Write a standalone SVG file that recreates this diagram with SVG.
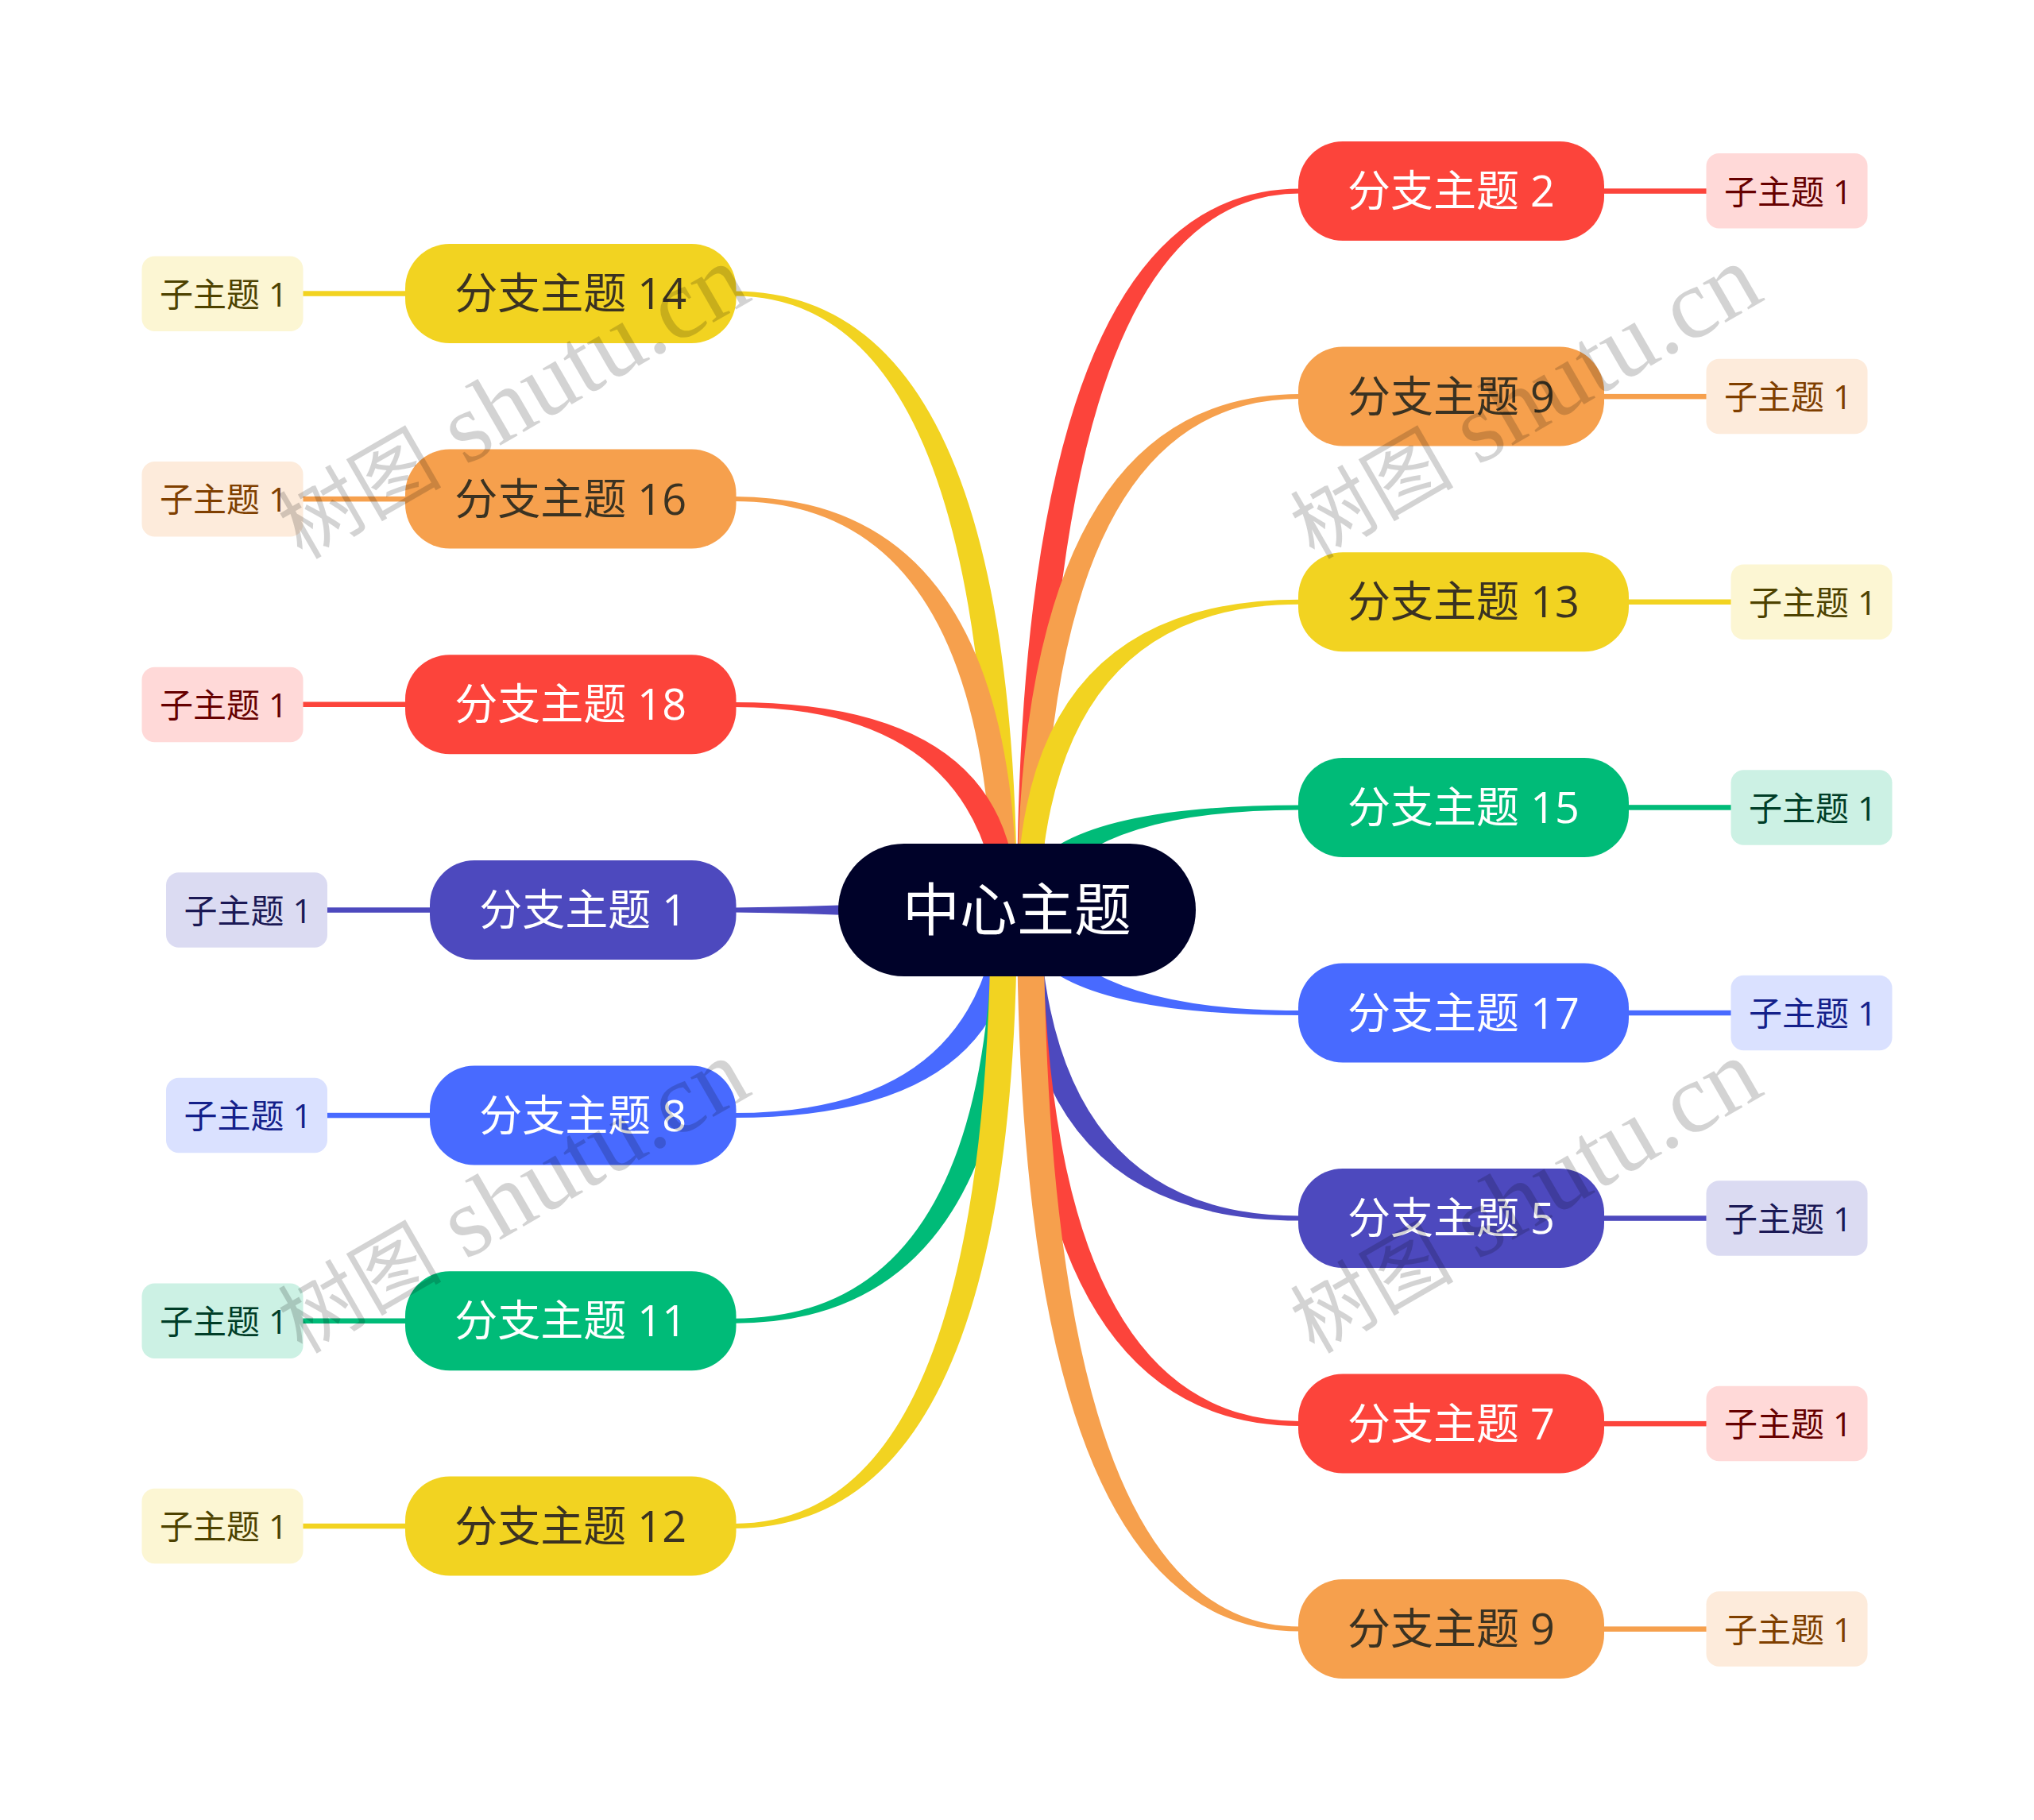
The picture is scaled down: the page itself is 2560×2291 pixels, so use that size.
<svg xmlns="http://www.w3.org/2000/svg" width="2560" height="2291" viewBox="0 0 2560 2291">
<style>
text{font-family:"Open Sans","Noto Sans CJK SC",sans-serif;text-anchor:middle}
.b text{font-size:54px;transform:translateY(-1px)}
.c text{font-size:42px;transform:translateX(1.5px)}
.red{fill:#FC443B}.ora{fill:#F6A04D}.yel{fill:#F2D321}.gre{fill:#00BB78}.blu{fill:#486AFF}.ind{fill:#4D49BE}
.sred{fill:#FFD9D8}.sora{fill:#FDEBDB}.syel{fill:#FCF6D3}.sgre{fill:#CCF1E4}.sblu{fill:#DAE1FF}.sind{fill:#DBDBF2}
.tw{fill:#FFFFFF}.td{fill:#3A3222}
.tred{fill:#660000}.tora{fill:#7F3F00}.tyel{fill:#4D4200}.tgre{fill:#003D27}.tblu{fill:#14208A}.tind{fill:#1B1955}
.wm{font-family:"Liberation Serif","Noto Sans CJK SC",serif;font-size:125px;fill:#000;opacity:.17;text-anchor:start}
.wm tspan{font-size:103px}
</style>
<g id="connectors">
<path class="ind" d="M1280,1126 Q1100,1141 924,1142.5 L924,1148.5 Q1100,1150 1280,1165Z"/>
<path class="red" d="M1280,1145.5 Q1280,237.5 1636,237.5 L1636,243.5 Q1313.5,243.5 1313.5,1158.6Z"/>
<path class="ind" d="M1280,1145.5 Q1280,1536.5 1636,1536.5 L1636,1530.5 Q1311,1530.5 1307,1121Z"/>
<path class="red" d="M1280,1145.5 Q1280,1795 1636,1795 L1636,1789 Q1311.6,1789 1311.6,1128Z"/>
<path class="blu" d="M1280,1145.5 Q1280,1407 924,1407 L924,1401 Q1246,1401 1259,1116Z"/>
<path class="ora" d="M1280,1145.5 Q1280,496 1636,496 L1636,502 Q1311.6,502 1311.6,1162.8Z"/>
<path class="ora" d="M1280,1145.5 Q1280,2053.6 1636,2053.6 L1636,2047.6 Q1313.5,2047.6 1313.5,1132.4Z"/>
<path class="gre" d="M1280,1145.5 Q1280,1665.7 924,1665.7 L924,1659.7 Q1250,1659.7 1250,1125Z"/>
<path class="yel" d="M1280,1145.5 Q1280,1924 924,1924 L924,1918 Q1247,1918 1247,1130.6Z"/>
<path class="yel" d="M1280,1145.5 Q1280,754.7 1636,754.7 L1636,760.7 Q1311,760.7 1307,1170Z"/>
<path class="yel" d="M1280,1145.5 Q1280,366.5 924,366.5 L924,372.5 Q1247,372.5 1247,1160.4Z"/>
<path class="gre" d="M1280,1145.5 Q1280,1013.5 1636,1013.5 L1636,1019.5 Q1320,1019.5 1292,1179Z"/>
<path class="ora" d="M1280,1145.5 Q1280,625 924,625 L924,631 Q1250,631 1250,1165.8Z"/>
<path class="blu" d="M1280,1145.5 Q1280,1278 1636,1278 L1636,1272 Q1320,1272 1292,1112Z"/>
<path class="red" d="M1280,1145.5 Q1280,884 924,884 L924,890 Q1246,890 1259,1175Z"/>
<rect class="red" x="2017" y="237.3" width="132" height="6.5"/>
<rect class="ora" x="2017" y="495.9" width="132" height="6.5"/>
<rect class="yel" x="2048" y="754.5" width="132" height="6.5"/>
<rect class="gre" x="2048" y="1013.2" width="132" height="6.5"/>
<rect class="blu" x="2048" y="1271.8" width="132" height="6.5"/>
<rect class="ind" x="2017" y="1530.3" width="132" height="6.5"/>
<rect class="red" x="2017" y="1788.9" width="132" height="6.5"/>
<rect class="ora" x="2017" y="2047.4" width="132" height="6.5"/>
<rect class="yel" x="380" y="366.3" width="132" height="6.5"/>
<rect class="ora" x="380" y="624.9" width="132" height="6.5"/>
<rect class="red" x="380" y="883.5" width="132" height="6.5"/>
<rect class="ind" x="411" y="1142.3" width="132" height="6.5"/>
<rect class="blu" x="411" y="1400.8" width="132" height="6.5"/>
<rect class="gre" x="380" y="1659.5" width="132" height="6.5"/>
<rect class="yel" x="380" y="1917.8" width="132" height="6.5"/>
</g>
<g id="center"><rect x="1055" y="1062" width="450" height="167" rx="83" fill="#000229"/><text x="1280" y="1171" font-size="72" fill="#fff">中心主题</text></g>
<g id="n2" class="b"><rect class="red" x="1634" y="178" width="385" height="125" rx="56"/><text class="tw" x="1826.5" y="261">分支主题 2</text></g>
<g id="n9" class="b"><rect class="ora" x="1634" y="436.5" width="385" height="125" rx="56"/><text class="td" x="1826.5" y="519.5">分支主题 9</text></g>
<g id="n13" class="b"><rect class="yel" x="1634" y="695.2" width="416" height="125" rx="56"/><text class="td" x="1842" y="778">分支主题 13</text></g>
<g id="n15" class="b"><rect class="gre" x="1634" y="954" width="416" height="125" rx="56"/><text class="tw" x="1842" y="1037">分支主题 15</text></g>
<g id="n17" class="b"><rect class="blu" x="1634" y="1212.5" width="416" height="125" rx="56"/><text class="tw" x="1842" y="1295.5">分支主题 17</text></g>
<g id="n5" class="b"><rect class="ind" x="1634" y="1471" width="385" height="125" rx="56"/><text class="tw" x="1826.5" y="1554">分支主题 5</text></g>
<g id="n7" class="b"><rect class="red" x="1634" y="1729.5" width="385" height="125" rx="56"/><text class="tw" x="1826.5" y="1812.5">分支主题 7</text></g>
<g id="n9b" class="b"><rect class="ora" x="1634" y="1988" width="385" height="125" rx="56"/><text class="td" x="1826.5" y="2071">分支主题 9</text></g>
<g id="n14" class="b"><rect class="yel" x="510" y="307" width="416.5" height="125" rx="56"/><text class="td" x="718.2" y="390">分支主题 14</text></g>
<g id="n16" class="b"><rect class="ora" x="510" y="565.5" width="416.5" height="125" rx="56"/><text class="td" x="718.2" y="648.5">分支主题 16</text></g>
<g id="n18" class="b"><rect class="red" x="510" y="824.2" width="416.5" height="125" rx="56"/><text class="tw" x="718.2" y="907.2">分支主题 18</text></g>
<g id="n1" class="b"><rect class="ind" x="541" y="1083" width="385.5" height="125" rx="56"/><text class="tw" x="733.7" y="1166">分支主题 1</text></g>
<g id="n8" class="b"><rect class="blu" x="541" y="1341.5" width="385.5" height="125" rx="56"/><text class="tw" x="733.7" y="1424.5">分支主题 8</text></g>
<g id="n11" class="b"><rect class="gre" x="510" y="1600.2" width="416.5" height="125" rx="56"/><text class="tw" x="718.2" y="1683.2">分支主题 11</text></g>
<g id="n12" class="b"><rect class="yel" x="510" y="1858.5" width="416.5" height="125" rx="56"/><text class="td" x="718.2" y="1941.5">分支主题 12</text></g>
<g id="c2" class="c"><rect class="sred" x="2147.5" y="193" width="203" height="94.5" rx="16"/><text class="tred" x="2249" y="256.5">子主题 1</text></g>
<g id="c9" class="c"><rect class="sora" x="2147.5" y="451.7" width="203" height="94.5" rx="16"/><text class="tora" x="2249" y="515">子主题 1</text></g>
<g id="c13" class="c"><rect class="syel" x="2178.5" y="710.5" width="203" height="94.5" rx="16"/><text class="tyel" x="2280" y="773.7">子主题 1</text></g>
<g id="c15" class="c"><rect class="sgre" x="2178.5" y="969.2" width="203" height="94.5" rx="16"/><text class="tgre" x="2280" y="1032.5">子主题 1</text></g>
<g id="c17" class="c"><rect class="sblu" x="2178.5" y="1227.8" width="203" height="94.5" rx="16"/><text class="tblu" x="2280" y="1291">子主题 1</text></g>
<g id="c5" class="c"><rect class="sind" x="2147.5" y="1486.3" width="203" height="94.5" rx="16"/><text class="tind" x="2249" y="1549.5">子主题 1</text></g>
<g id="c7" class="c"><rect class="sred" x="2147.5" y="1744.8" width="203" height="94.5" rx="16"/><text class="tred" x="2249" y="1808">子主题 1</text></g>
<g id="c9b" class="c"><rect class="sora" x="2147.5" y="2003.3" width="203" height="94.5" rx="16"/><text class="tora" x="2249" y="2066.6">子主题 1</text></g>
<g id="c14" class="c"><rect class="syel" x="178.5" y="322.5" width="203" height="94.5" rx="16"/><text class="tyel" x="280" y="385.5">子主题 1</text></g>
<g id="c16" class="c"><rect class="sora" x="178.5" y="581" width="203" height="94.5" rx="16"/><text class="tora" x="280" y="644">子主题 1</text></g>
<g id="c18" class="c"><rect class="sred" x="178.5" y="839.7" width="203" height="94.5" rx="16"/><text class="tred" x="280" y="903">子主题 1</text></g>
<g id="c1" class="c"><rect class="sind" x="209" y="1098.3" width="203" height="94.5" rx="16"/><text class="tind" x="310.5" y="1161.5">子主题 1</text></g>
<g id="c8" class="c"><rect class="sblu" x="209" y="1356.8" width="203" height="94.5" rx="16"/><text class="tblu" x="310.5" y="1420">子主题 1</text></g>
<g id="c11" class="c"><rect class="sgre" x="178.5" y="1615.5" width="203" height="94.5" rx="16"/><text class="tgre" x="280" y="1678.7">子主题 1</text></g>
<g id="c12" class="c"><rect class="syel" x="178.5" y="1873.8" width="203" height="94.5" rx="16"/><text class="tyel" x="280" y="1937">子主题 1</text></g>
<g id="watermarks">
<text class="wm" transform="translate(380,705) rotate(-30)"><tspan>树图</tspan> shutu.cn</text>
<text class="wm" transform="translate(1654,705) rotate(-30)"><tspan>树图</tspan> shutu.cn</text>
<text class="wm" transform="translate(380,1705) rotate(-30)"><tspan>树图</tspan> shutu.cn</text>
<text class="wm" transform="translate(1654,1705) rotate(-30)"><tspan>树图</tspan> shutu.cn</text>
</g>
</svg>
